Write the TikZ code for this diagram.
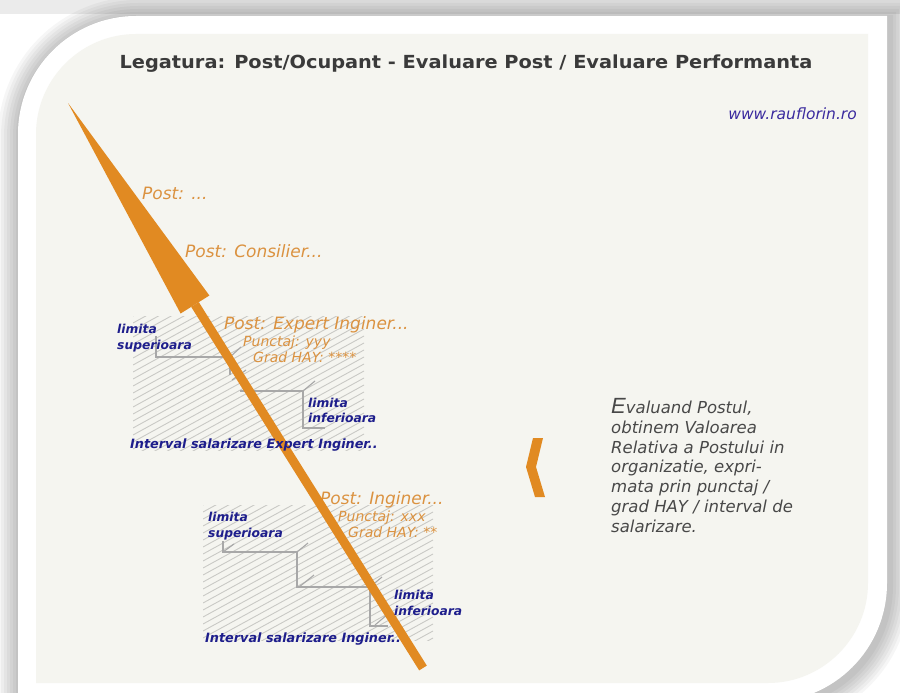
\documentclass[tikz,border=0pt]{standalone}
\usepackage{fontspec}
\setmainfont{DejaVu Sans}
\newfontfamily\titlefont[FakeStretch=1.075]{DejaVu Sans}
\newfontfamily\arialfont{Liberation Sans}
\definecolor{panel}{HTML}{F5F5F0}
\definecolor{arroworange}{HTML}{E18A22}
\definecolor{postorange}{HTML}{DB9240}
\definecolor{limblue}{HTML}{1E1E8C}
\definecolor{webblue}{HTML}{3A2A9E}
\definecolor{titlegray}{HTML}{3A3A3A}
\definecolor{textgray}{HTML}{484848}
\definecolor{hatchgray}{HTML}{C9C9C5}
\definecolor{stairgray}{HTML}{A8A8A8}
\begin{document}
\begin{tikzpicture}[x=1pt,y=-1pt,
  post/.style={text=postorange, font=\itshape\fontsize{17}{20}\selectfont, anchor=base west, inner sep=0pt},
  postsmall/.style={text=postorange, font=\itshape\fontsize{14}{16}\selectfont, anchor=base west, inner sep=0pt},
  lim/.style={text=limblue, font=\bfseries\itshape\fontsize{12.3}{15}\selectfont, anchor=base west, inner sep=0pt},
  limint/.style={lim, font=\bfseries\itshape\fontsize{12.8}{15}\selectfont},
  evtext/.style={text=textgray, font=\itshape\fontsize{16.5}{20}\selectfont, anchor=base west, inner sep=0pt},
  stair/.style={draw=stairgray, line width=1.1pt},
  hatchline/.style={draw=hatchgray, line width=0.9pt},
  shadowline/.style={draw=black, opacity=0.035}
]
\useasboundingbox (0,0) rectangle (900,693);
\clip (0,0) rectangle (900,693);
\fill[white] (0,0) rectangle (900,693);
\fill[black, opacity=0.08] (0,0) rectangle (900,14);
% soft shadow of the card
\foreach \w in {44,38,32,26,20,14,8}{
  \begin{scope}[shift={(2,3)}]
  \draw[shadowline, line width=\w pt] (18,720) -- (18,134) .. controls (18,69) and (71,16) .. (136,16) -- (887,16) -- (887,583) .. controls (887,649) and (834,702) .. (768,702) -- (768,720) -- cycle;
  \end{scope}
}
% white card
\fill[white] (18,720) -- (18,134) .. controls (18,69) and (71,16) .. (136,16) -- (887,16) -- (887,583) .. controls (887,649) and (834,702) .. (768,702) -- (18,702) -- cycle;
% inner panel
\fill[panel] (36,683) -- (36,134) .. controls (36,79) and (81,34) .. (136,34) -- (868,34) -- (868,583) .. controls (868,638) and (823,683) .. (768,683) -- cycle;

% title and web address
\node[font=\titlefont\bfseries\fontsize{18}{21}\selectfont, text=titlegray, anchor=base, inner sep=0pt] (title) at (466,69) {Legatura: Post/Ocupant - Evaluare Post / Evaluare Performanta};
\node[font=\itshape\fontsize{15.5}{17}\selectfont, text=webblue, anchor=base east, inner sep=0pt] (web) at (857,119) {www.rauflorin.ro};

% hatched salary intervals
\begin{scope}
  \clip (133,316) rectangle (364,450);
  \foreach \c in {316,323,...,586}{
    \draw[hatchline] (133,\c) -- (364,{\c-127});
  }
\end{scope}
\begin{scope}
  \clip (203,505) rectangle (433,640);
  \foreach \c in {505,512,...,775}{
    \draw[hatchline] (203,\c) -- (433,{\c-126});
  }
\end{scope}

% staircase: Expert Inginer
\draw[stair] (156,336) -- (156,357) -- (230,357) -- (230,375);
\draw[stair] (230,357) -- (241,347);
\draw[stair] (232,380) -- (246,370);
\draw[stair] (240,391) -- (303,391) -- (303,428) -- (325,428);
\draw[stair] (303,391) -- (315,381);

% staircase: Inginer
\draw[stair] (223,541) -- (223,552) -- (297,552) -- (297,587) -- (370,587) -- (370,626) -- (388,626);
\draw[stair] (223,552) -- (234,544);
\draw[stair] (297,552) -- (308,543);
\draw[stair] (299,587) -- (314,575);
\draw[stair] (370,587) -- (382,577);
\draw[stair] (375,625) -- (388,614);

% orange label partially under the arrow
\node[post] (pinginer) at (320,504) {Post: Inginer...};

% big orange arrow
\coordinate (tip) at (68,103);
\coordinate (bl) at (180.6,313.5);
\coordinate (br) at (209.4,295.5);
\coordinate (bc) at (195,304.5);
\coordinate (tail) at (423,668);
\fill[arroworange] (tip) -- (bl) -- (br) -- cycle;
\draw[arroworange, line width=9pt] (bc) -- (tail);

% orange post labels
\node[post] (pdots) at (142,199) {Post: ...};
\node[post] (pcons) at (185,257) {Post: Consilier...};
\node[post] (pexpert) at (224,329) {Post: Expert Inginer...};
\node[postsmall] (punctyyy) at (243,346) {Punctaj: yyy};
\node[postsmall] (gradexp) at (253,362) {Grad HAY: ****};
\node[postsmall] (punctxxx) at (338,521) {Punctaj: xxx};
\node[postsmall] (gradeng) at (348,537) {Grad HAY: **};

% blue labels: Expert Inginer
\node[lim] (ls1a) at (117,333) {limita};
\node[lim] (ls1b) at (117,349) {superioara};
\node[lim] (li1a) at (308,407) {limita};
\node[lim] (li1b) at (308,422) {inferioara};
\node[limint] (int1) at (130,448) {Interval salarizare Expert Inginer..};

% blue labels: Inginer
\node[lim] (ls2a) at (208,521) {limita};
\node[lim] (ls2b) at (208,537) {superioara};
\node[lim] (li2a) at (394,599) {limita};
\node[lim] (li2b) at (394,615) {inferioara};
\node[limint] (int2) at (205,642) {Interval salarizare Inginer..};

% chevron
\fill[arroworange] (533,438) -- (543,438) -- (536,467) -- (545,497) -- (535,497) -- (526,467) -- cycle;

% explanatory text
\node[evtext] (ev1) at (611,413) {{\arialfont\fontsize{22}{22}\selectfont E}valuand Postul,};
\node[evtext] (ev2) at (611,433) {obtinem Valoarea};
\node[evtext] (ev3) at (611,453) {Relativa a Postului in};
\node[evtext] (ev4) at (611,472) {organizatie, expri-};
\node[evtext] (ev5) at (611,492) {mata prin punctaj /};
\node[evtext] (ev6) at (611,512) {grad HAY / interval de};
\node[evtext] (ev7) at (611,532) {salarizare.};
\end{tikzpicture}
\end{document}
